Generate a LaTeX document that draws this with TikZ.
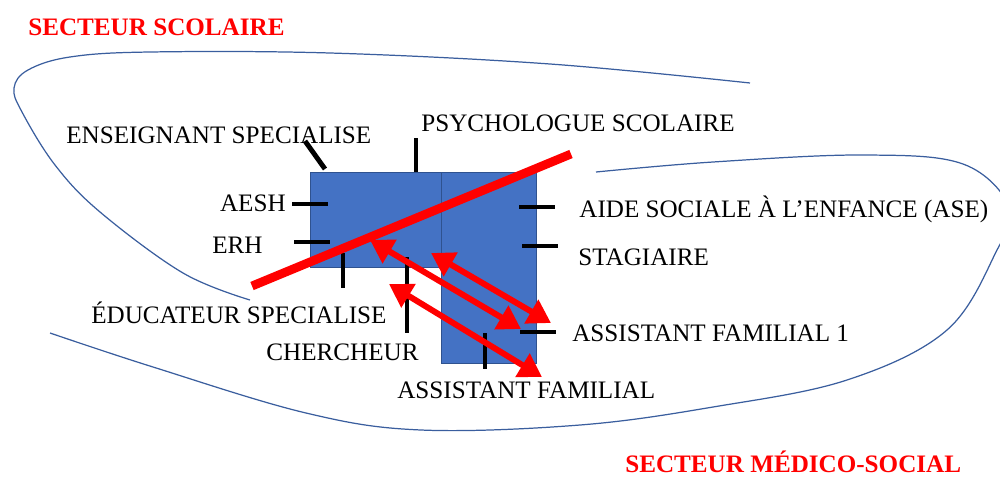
\documentclass[tikz,border=0pt]{standalone}
\usepackage{fontspec}
\setmainfont{Liberation Serif}
\usetikzlibrary{arrows.meta}
\definecolor{boxblue}{HTML}{4472C4}
\definecolor{boxedge}{HTML}{2F528F}
\definecolor{zoneblue}{HTML}{3A5E9E}
\begin{document}
\begin{tikzpicture}[x=0.02cm,y=-0.02cm,
    lbl/.style={inner sep=0pt,font=\fontsize{14.3}{17}\selectfont},
    sector/.style={inner sep=0pt,text=red,font=\fontsize{14.3}{17}\selectfont\bfseries},
    zone/.style={draw=zoneblue,line width=0.7pt},
    tickline/.style={line width=2.8pt},
    link/.style={red,line width=3.4pt,{Triangle[length=13pt,width=15pt]}-{Triangle[length=13pt,width=15pt]}}]
    \useasboundingbox (0,0) rectangle (1000,477);

    % the two sectors
    \draw[zone] plot[smooth,tension=0.6] coordinates {(750,83) (550,64) (330,53) (150,52) (70,57) (28,70) (14,88) (22,112) (55,165) (100,212) (183,273) (250,300)};
    \draw[zone] plot[smooth,tension=0.6] coordinates {(596,172) (713,162) (863,155) (963,164) (1010,208) (997,250) (947,330) (847,380) (713,407) (580,425) (421,430) (306,413) (153,367) (50,333)};
    \node[sector,anchor=base west] (scol) at (28,35) {SECTEUR SCOLAIRE};
    \node[sector,anchor=base west] (medsoc) at (625,472) {SECTEUR MÉDICO-SOCIAL};

    % the two blocks
    \draw[fill=boxblue,draw=boxedge,line width=0.5pt] (441,172) rectangle (536,363);
    \draw[fill=boxblue,draw=boxedge,line width=0.5pt] (310,172) rectangle (441,267);

    % labels
    \node[lbl,anchor=base west] (ens) at (66,143) {ENSEIGNANT SPECIALISE};
    \node[lbl,anchor=base west] (psy) at (421,131) {PSYCHOLOGUE SCOLAIRE};
    \node[lbl,anchor=base east] (aesh) at (286,211) {AESH};
    \node[lbl,anchor=base west] (erh) at (212,253) {ERH};
    \node[lbl,anchor=base west] (ase) at (579,217) {AIDE SOCIALE À L’ENFANCE (ASE)};
    \node[lbl,anchor=base west] (stag) at (578,265) {STAGIAIRE};
    \node[lbl,anchor=base west] (edu) at (91,323) {ÉDUCATEUR SPECIALISE};
    \node[lbl,anchor=base west] (cher) at (266,360) {CHERCHEUR};
    \node[lbl,anchor=base west] (af1) at (572,341) {ASSISTANT FAMILIAL 1};
    \node[lbl,anchor=base west] (af) at (397,398) {ASSISTANT FAMILIAL};

    % ticks
    \coordinate (ensA) at (305,141); \coordinate (ensB) at (325,169);
    \coordinate (psyA) at (416,138); \coordinate (psyB) at (416,172);
    \coordinate (aeshA) at (292,204); \coordinate (aeshB) at (328,204);
    \coordinate (erhA) at (294,242); \coordinate (erhB) at (330,242);
    \coordinate (eduA) at (343,253); \coordinate (eduB) at (343,288);
    \coordinate (cherA) at (407,257); \coordinate (cherB) at (407,333);
    \coordinate (aseA) at (519,207); \coordinate (aseB) at (555,207);
    \coordinate (stagA) at (522,246); \coordinate (stagB) at (558,246);
    \coordinate (af1A) at (520,332); \coordinate (af1B) at (556,332);
    \coordinate (afA) at (485,333); \coordinate (afB) at (485,369);
    \foreach \t in {ens,psy,aesh,erh,edu,cher,ase,stag,af1,af}
        \draw[tickline] (\t A) -- (\t B);

    % the cut between sectors
    \coordinate (cutA) at (252,286);
    \coordinate (cutB) at (571,154);
    \draw[red,line width=5pt] (cutA) -- (cutB);

    % links
    \coordinate (l1a) at (370,240); \coordinate (l1b) at (521,329);
    \coordinate (l2a) at (431,253); \coordinate (l2b) at (551,323);
    \coordinate (l3a) at (389,284); \coordinate (l3b) at (542,377);
    \draw[link] (l1a) -- (l1b);
    \draw[link] (l2a) -- (l2b);
    \draw[link] (l3a) -- (l3b);
\end{tikzpicture}
\end{document}
